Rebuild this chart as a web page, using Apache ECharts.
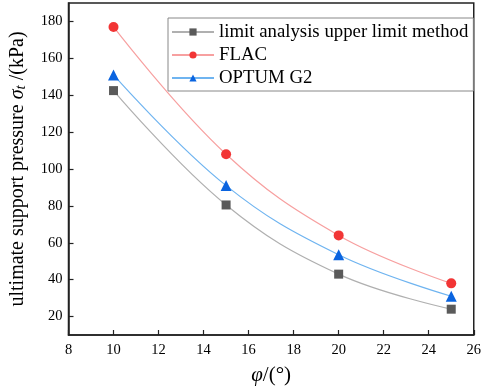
<!DOCTYPE html>
<html>
<head>
<meta charset="utf-8">
<script src="https://cdn.jsdelivr.net/npm/echarts@6/dist/echarts.min.js"></script>
<style>html,body{margin:0;padding:0;background:#fff}#c{width:484px;height:391px}</style>
</head>
<body>
<div id="c"></div>
<script>
const phi = [10, 15, 20, 25];
const upperLimit = [142.5, 80.5, 43, 24];
const flac = [177, 108, 64, 38];
const optum = [151, 91, 53.5, 31];
const seriesNames = ['limit analysis upper limit method', 'FLAC', 'OPTUM G2'];

const font = 'Liberation Serif';
const chart = echarts.init(document.getElementById('c'), null, {renderer: 'canvas'});
function pts(ys) { return phi.map((x, i) => [x, ys[i]]); }
const tickRich = {a: {fontFamily: font, fontSize: 14.5, color: '#000'}};
chart.setOption({
  animation: false,
  backgroundColor: '#fff',
  textStyle: {fontFamily: font, color: '#000'},
  grid: {left: 60, right: 9, top: 3, bottom: 54, show: true, borderColor: '#222', borderWidth: 1.5, backgroundColor: 'transparent'},
  legend: {
    orient: 'vertical', left: 168, top: 18,
    itemWidth: 42, itemHeight: 9, itemGap: 3,
    padding: [4, 5, 3, 3],
    borderColor: '#888', borderWidth: 1,
    textStyle: {fontFamily: font, fontSize: 18.8, color: '#000', lineHeight: 20},
    data: seriesNames
  },
  xAxis: {
    type: 'value', min: 8, max: 26, interval: 2,
    name: '{i|φ}/(°)', nameLocation: 'middle', nameGap: 30,
    nameTextStyle: {fontFamily: font, fontSize: 21, color: '#000', rich: {i: {fontFamily: font, fontSize: 21, fontStyle: 'italic', color: '#000'}}},
    axisLine: {lineStyle: {color: '#222', width: 1.5}},
    axisTick: {inside: true, length: 5, lineStyle: {color: '#222', width: 1.2}},
    axisLabel: {fontFamily: font, fontSize: 14.5, color: '#000', margin: 8, formatter: v => '{a|' + v + '}', rich: tickRich},
    splitLine: {show: false}
  },
  yAxis: {
    type: 'value', min: 10, max: 190, splitNumber: 9,
    name: 'ultimate support pressure {i|σ}{s|t} /(kPa)', nameLocation: 'middle', nameGap: 40, nameRotate: 90,
    nameTextStyle: {fontFamily: font, fontSize: 20, color: '#000',
      rich: {i: {fontFamily: font, fontSize: 20, fontStyle: 'italic', color: '#000'},
             s: {fontFamily: font, fontSize: 15, fontStyle: 'italic', color: '#000', padding: [6, 0, 0, 0]}}},
    axisLine: {show: true, lineStyle: {color: '#222', width: 1.5}},
    axisTick: {inside: true, length: 5, lineStyle: {color: '#222', width: 1.2}},
    axisLabel: {fontFamily: font, fontSize: 14.5, color: '#000', margin: 6, showMinLabel: false, showMaxLabel: false,
      formatter: v => '{a|' + v + '}', rich: tickRich},
    splitLine: {show: false}
  },
  series: [
    {name: seriesNames[0], type: 'line', smooth: 0.4, data: pts(upperLimit), symbol: 'rect', symbolSize: 9,
     lineStyle: {color: '#b0b0b0', width: 1.2}, itemStyle: {color: '#5a5a5a'}},
    {name: seriesNames[1], type: 'line', smooth: 0.4, data: pts(flac), symbol: 'circle', symbolSize: 10,
     lineStyle: {color: '#f7a0a0', width: 1.2}, itemStyle: {color: '#f23535'}},
    {name: seriesNames[2], type: 'line', smooth: 0.4, data: pts(optum), symbol: 'triangle', symbolSize: 11,
     lineStyle: {color: '#6fb4f0', width: 1.2}, itemStyle: {color: '#0a64e0'}}
  ]
});
</script>
</body>
</html>
